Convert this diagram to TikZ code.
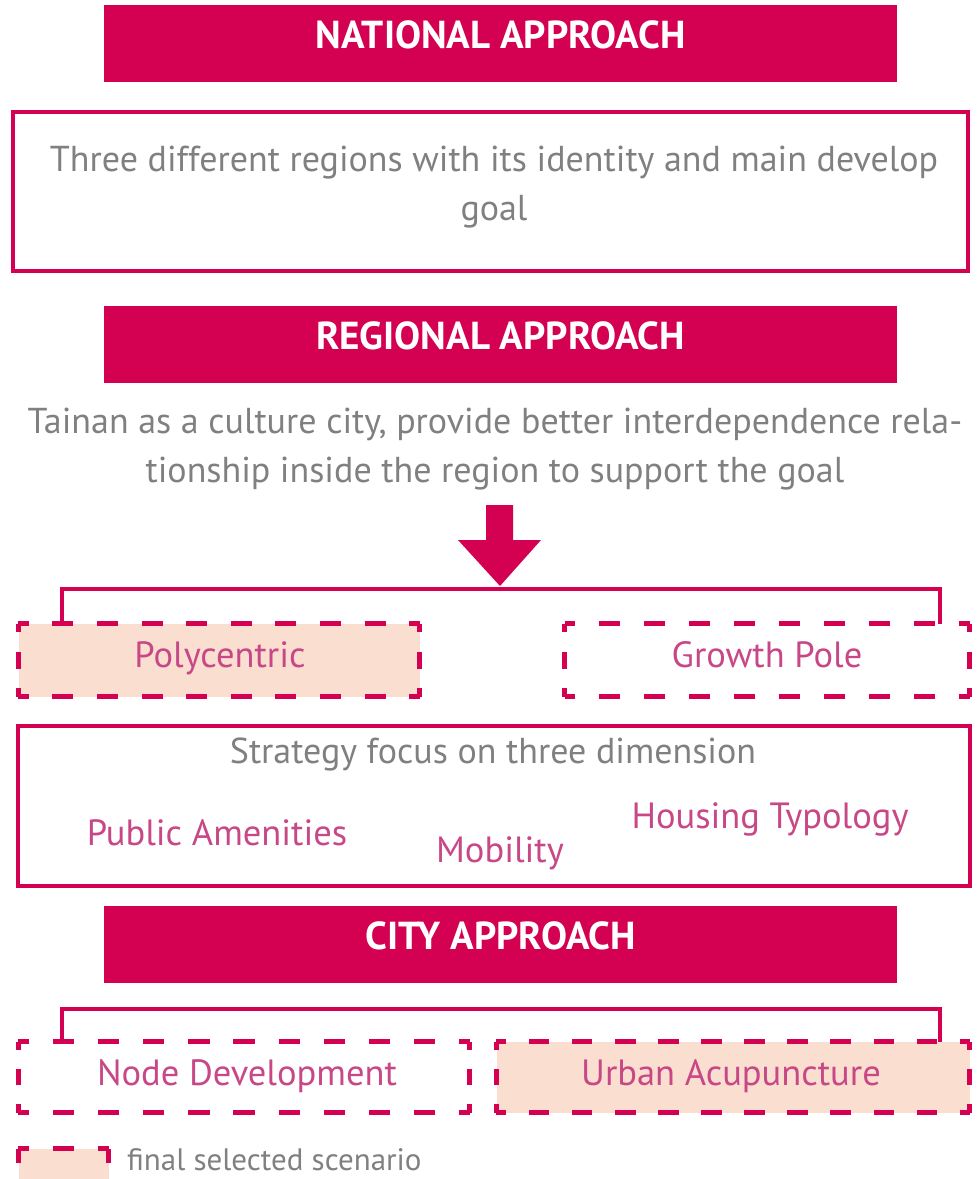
\documentclass[tikz,border=0pt]{standalone}
\usepackage{fontspec}
\setmainfont{PT Sans}
\usetikzlibrary{calc}
\definecolor{crim}{RGB}{212,0,82}
\definecolor{peach}{RGB}{250,222,208}
\definecolor{pinktxt}{RGB}{200,72,135}
\definecolor{txtgray}{RGB}{128,128,128}
\newcommand\dside[2]{\path let \p1=($(#2)-(#1)$), \n1={veclen(\x1,\y1)}, \n2={\n1/max(1,round(\n1/45))} in [draw=crim, line width=5pt, line cap=butt, dash pattern=on 0.47*\n2 off 0.53*\n2, dash phase=0.235*\n2] (#1) -- (#2);}
\newcommand\dborder[1]{%
  \dside{#1.north west}{#1.north east}
  \dside{#1.north east}{#1.south east}
  \dside{#1.south east}{#1.south west}
  \dside{#1.south west}{#1.north west}}
\begin{document}
\begin{tikzpicture}[x=1pt,y=-1pt,
  titlebar/.style={fill=crim, minimum width=793pt, minimum height=77pt, inner sep=0pt},
  titletext/.style={text=white, font=\fontsize{39}{44}\selectfont\bfseries, inner sep=0pt, anchor=base},
  solidbox/.style={draw=crim, line width=4pt, inner sep=0pt},
  graytext/.style={text=txtgray, font=\fontsize{36}{49}\selectfont, align=center, inner sep=0pt},
  pinktext/.style={text=pinktxt, font=\fontsize{36.5}{42}\selectfont, inner sep=0pt, anchor=base},
  optbox/.style={inner sep=0pt},
  bracket/.style={draw=crim, line width=4pt}]
\useasboundingbox (0,0) rectangle (977,1179);

% National
\node[titlebar] (nat) at (500.5,43.5) {};
\node[titletext] (natt) at (500.5,48.5) {NATIONAL APPROACH};
\node[solidbox, minimum width=955pt, minimum height=159pt] (nbox) at (490.5,191.5) {};
\node[graytext] (ntext) at (494,187) {Three different regions with its identity and main develop\\goal};

% Regional
\node[titlebar] (reg) at (500.5,344.5) {};
\node[titletext] (regt) at (500.5,349.5) {REGIONAL APPROACH};
\node[graytext] (rtext) at (495,449) {Tainan as a culture city, provide better interdependence rela-\\tionship inside the region to support the goal};

% arrow
\fill[crim] (486,505) -- (513,505) -- (513,540) -- (541,540) -- (500,586) -- (458,540) -- (486,540) -- cycle;
\coordinate (tip) at (500,589);

% scenario boxes
\node[optbox, fill=peach, minimum width=401pt, minimum height=72.5pt] (poly) at (219,660.25) {};
\node[pinktext] (polyt) at (220,667) {Polycentric};
\node[optbox, minimum width=404.5pt, minimum height=72.5pt] (grow) at (767.25,660.25) {};
\node[pinktext] (growt) at (767,667) {Growth Pole};
\dborder{poly}
\dborder{grow}
\draw[bracket] ([xshift=43.5pt]poly.north west) |- (tip) -| ([xshift=-29.8pt]grow.north east);

% strategy
\node[solidbox, minimum width=952pt, minimum height=160pt] (strat) at (494,806) {};
\node[graytext, anchor=base] (stext) at (493,763) {Strategy focus on three dimension};
\node[pinktext] (pa) at (217,845) {Public Amenities};
\node[pinktext] (mob) at (500,862) {Mobility};
\node[pinktext] (ht) at (770,828) {Housing Typology};

% City
\node[titlebar] (city) at (500.5,944.5) {};
\node[titletext] (cityt) at (500.5,949.5) {CITY APPROACH};
\node[optbox, minimum width=451.2pt, minimum height=70.8pt] (nd) at (244.1,1077.1) {};
\node[pinktext] (ndt) at (247,1085) {Node Development};
\node[optbox, fill=peach, minimum width=473pt, minimum height=70.8pt] (ua) at (733,1077.1) {};
\node[pinktext] (uat) at (731,1085) {Urban Acupuncture};
\dborder{nd}
\dborder{ua}
\draw[bracket] ([xshift=44pt]nd.north west) -- ++(0,-32.2) -| ([xshift=-29.5pt]ua.north east);

% legend
\node[optbox, fill=peach, minimum width=90pt, minimum height=60pt] (leg) at (63.5,1179) {};
\dside{leg.north west}{leg.north east}
\dside{leg.south east}{leg.north east}
\dside{leg.south west}{leg.north west}
\node[text=txtgray, font=\fontsize{31}{36}\selectfont, anchor=base west, inner sep=0pt] (legt) at (127,1170) {final selected scenario};
\end{tikzpicture}
\end{document}
